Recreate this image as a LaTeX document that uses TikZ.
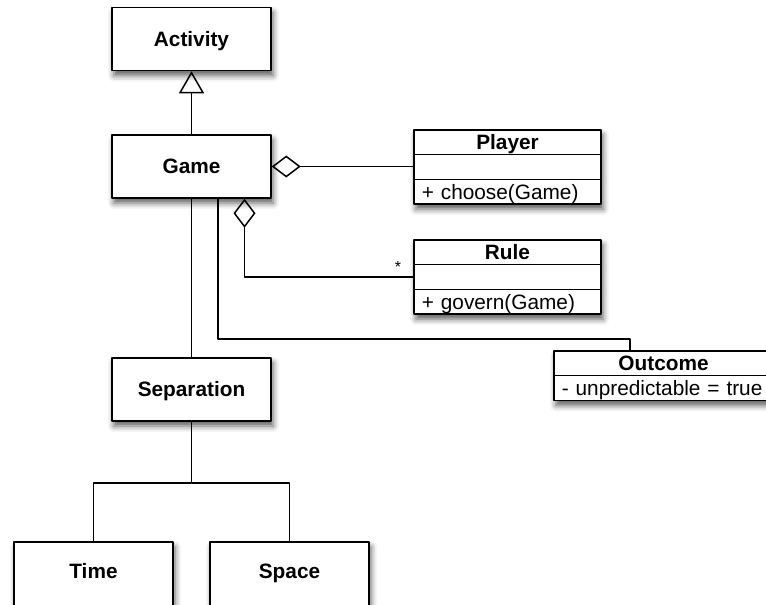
\documentclass[tikz,border=0pt]{standalone}
\usepackage{fontspec}
\setmainfont{Liberation Sans}
\usetikzlibrary{arrows.meta,positioning,backgrounds,shadows.blur}
\begin{document}
\begin{tikzpicture}[x=1pt, y=-1pt, line width=1.5pt, line join=round,
	font=\fontsize{20.8}{24}\selectfont,
	shadowed/.style={blur shadow={shadow xshift=2pt, shadow yshift=-5pt, shadow blur radius=6pt, shadow opacity=65}},
	box/.style={draw, fill=white, shadowed, minimum width=159pt, minimum height=63pt, font=\fontsize{20.8}{24}\selectfont\bfseries, text height=14.9pt, text depth=0pt},
	leaf/.style={box, minimum height=66pt, text depth=7pt},
	classhead/.style={draw, fill=white, outer sep=0pt, inner sep=0pt, minimum height=24.7pt, minimum width=#1, text height=14.9pt, text depth=0pt, font=\fontsize{20.8}{24}\selectfont\bfseries},
	classpart/.style={draw, fill=white, outer sep=0pt, inner ysep=0pt, inner xsep=7.8pt, minimum height=24.7pt, text width=#1-15.6pt, align=left, text height=14.9pt, text depth=0pt},
	gen/.style={-{Triangle[open, length=22pt, width=25pt]}},
	aggr/.style={{Diamond[open, length=29pt, width=22pt]}-}]
	\useasboundingbox (0,0) rectangle (766,605);
	% boxes on the left
	\node[box] (activity) at (191.5,39) {Activity};
	\node[box] (game) at (191.5,166.5) {Game};
	\node[box] (separation) at (191.5,389.5) {Separation};
	\node[leaf] (time) at (93.5,575) {Time};
	\node[leaf] (space) at (289.5,575) {Space};
	% classes on the right
	\node[classhead=187pt] (player) at (507.5,142.35) {Player};
	\node[classpart=187pt, below=0pt of player] (playerattr) {};
	\node[classpart=187pt, below=0pt of playerattr] (playerops) {+ choose(Game)};
	\node[classhead=187pt] (rule) at (507.5,252.35) {Rule};
	\node[classpart=187pt, below=0pt of rule] (ruleattr) {};
	\node[classpart=187pt, below=0pt of ruleattr] (ruleops) {+ govern(Game)};
	\node[classhead=219pt] (outcome) at (663.5,363.35) {Outcome};
	\node[classpart=219pt, below=0pt of outcome] (outcomeattr) {- unpredictable = true};
	\begin{scope}[on background layer]
		\fill[white, shadowed] (player.north west) rectangle (playerops.south east);
		\fill[white, shadowed] (rule.north west) rectangle (ruleops.south east);
		\fill[white, shadowed] (outcome.north west) rectangle (outcomeattr.south east);
	\end{scope}
	\coordinate (gamerule) at ([xshift=53pt]game.south);
	\coordinate (gameout) at ([xshift=26.5pt]game.south);
	\coordinate (outin) at ([xshift=-33.5pt]outcome.north);
	% connectors
	\draw[gen] (game) -- (activity);
	\draw[aggr] (game.east) -- (game.east -| playerattr.west);
	\draw[aggr] (gamerule) |- (ruleattr.west);
	\node[font=\fontsize{16}{16}\selectfont] (many) at ([xshift=-16pt,yshift=10.4pt]ruleattr.west) {*};
	\draw (gameout) -- ++(0,140) -| (outin);
	\draw (game) -- (separation);
	\draw (separation.south) -- ++(0,61) coordinate (bus) -| (time.north);
	\draw (bus) -| (space.north);
\end{tikzpicture}
\end{document}
